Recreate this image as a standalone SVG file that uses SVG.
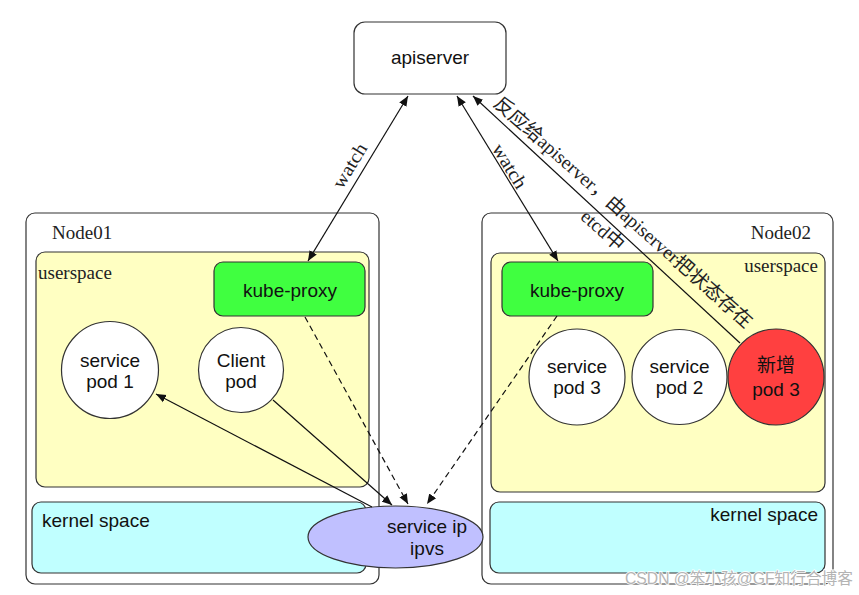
<svg xmlns="http://www.w3.org/2000/svg" width="859" height="595" viewBox="0 0 859 595">
<style>
.box{stroke:#333;stroke-width:1.2}
.node{fill:#fff}
.user{fill:#ffffc2}
.kern{fill:#c0ffff}
.kp{fill:#40ff40}
.pod{fill:#fff}
.new{fill:#ff4040}
.ip{fill:#c0c0ff}
.sans{font-family:"Liberation Sans",Arial,"Noto Sans CJK SC",sans-serif;font-size:19px;fill:#111}
.serif{font-family:"Liberation Serif","Noto Sans CJK SC",serif;font-size:19px;fill:#222}
.mid{text-anchor:middle}
.end{text-anchor:end}
.ln{fill:none;stroke:#111;stroke-width:1.2}
.dash{stroke-dasharray:6 4}
.wm{font-family:"Liberation Sans","Noto Sans CJK SC",sans-serif;font-size:16px;fill:#b4b4b4;stroke:#fff;stroke-width:1.5;paint-order:stroke}
</style>
<defs>
<marker id="ah" viewBox="0 0 10 10" refX="10" refY="5" markerWidth="10" markerHeight="10" markerUnits="userSpaceOnUse" orient="auto-start-reverse">
<path d="M0,0.8 L10,5 L0,9.2 z" fill="#111"/>
</marker>
</defs>
<rect width="859" height="595" fill="#fff"/>

<g id="apiserver">
<rect class="box node" x="354" y="22" width="152" height="72" rx="11"/>
<text class="sans mid" x="430" y="64">apiserver</text>
</g>

<g id="node01">
<rect class="box node" x="26" y="213" width="353" height="371" rx="9"/>
<text class="serif" x="52" y="239">Node01</text>
</g>
<g id="userspace01">
<rect class="box user" x="36" y="252" width="333" height="235" rx="9"/>
<text class="serif" x="38" y="279">userspace</text>
</g>
<g id="kernel01">
<rect class="box kern" x="32" y="502" width="334" height="71" rx="9"/>
<text class="sans" x="42" y="527">kernel space</text>
</g>
<g id="kubeproxy01">
<rect class="box kp" x="214" y="262" width="151" height="54" rx="9"/>
<text class="sans mid" x="290" y="297">kube-proxy</text>
</g>
<g id="servicepod1">
<circle class="box pod" cx="110" cy="370" r="48.5"/>
<text class="sans mid" x="110" y="367">service</text>
<text class="sans mid" x="110" y="388">pod 1</text>
</g>
<g id="clientpod">
<circle class="box pod" cx="241" cy="370" r="42.5"/>
<text class="sans mid" x="241" y="367">Client</text>
<text class="sans mid" x="241" y="388">pod</text>
</g>

<g id="node02">
<rect class="box node" x="482" y="213" width="351" height="371" rx="9"/>
<text class="serif end" x="811" y="239">Node02</text>
</g>
<g id="userspace02">
<rect class="box user" x="491" y="253" width="334" height="239" rx="9"/>
<text class="serif end" x="818" y="272">userspace</text>
</g>
<g id="kernel02">
<rect class="box kern" x="490" y="502" width="335" height="71" rx="9"/>
<text class="sans end" x="818" y="521">kernel space</text>
</g>
<g id="kubeproxy02">
<rect class="box kp" x="502" y="262" width="151" height="54" rx="9"/>
<text class="sans mid" x="577" y="297">kube-proxy</text>
</g>
<g id="servicepod3">
<circle class="box pod" cx="577" cy="377" r="48"/>
<text class="sans mid" x="577" y="373">service</text>
<text class="sans mid" x="577" y="394">pod 3</text>
</g>
<g id="servicepod2">
<circle class="box pod" cx="679.5" cy="377" r="47.5"/>
<text class="sans mid" x="679.5" y="373">service</text>
<text class="sans mid" x="679.5" y="394">pod 2</text>
</g>
<g id="newpod3">
<circle class="box new" cx="776" cy="377" r="48"/>
<text class="sans mid" x="776" y="372">新增</text>
<text class="sans mid" x="776" y="396">pod 3</text>
</g>

<g id="serviceip">
<ellipse class="box ip" cx="395.5" cy="537" rx="87.5" ry="31"/>
<text class="sans mid" x="427" y="533">service ip</text>
<text class="sans mid" x="427" y="555">ipvs</text>
</g>

<g id="connectors">
<line class="ln" x1="408" y1="96" x2="308" y2="261" marker-start="url(#ah)" marker-end="url(#ah)"/>
<line class="ln" x1="457" y1="96" x2="558" y2="261" marker-start="url(#ah)" marker-end="url(#ah)"/>
<line class="ln" x1="740" y1="343" x2="473" y2="96" marker-end="url(#ah)"/>
<line class="ln" x1="372" y1="507" x2="156" y2="394" marker-end="url(#ah)"/>
<line class="ln" x1="273" y1="400" x2="392" y2="505" marker-end="url(#ah)"/>
<line class="ln dash" x1="305" y1="317" x2="408" y2="504" marker-end="url(#ah)"/>
<line class="ln dash" x1="557" y1="316" x2="427" y2="504" marker-end="url(#ah)"/>
<text class="serif mid" transform="translate(355,169) rotate(-58.5)" textLength="49" lengthAdjust="spacingAndGlyphs">watch</text>
<text class="serif mid" transform="translate(504.4,169.4) rotate(58.5)" textLength="49" lengthAdjust="spacingAndGlyphs">watch</text>
<text class="serif mid" transform="translate(619,217) rotate(41.5)" textLength="338" lengthAdjust="spacingAndGlyphs">反应给apiserver，由apiserver把状态存在</text>
<text class="serif mid" transform="translate(598.5,235) rotate(41.5)">etcd中</text>
</g>

<text class="wm" x="625" y="584" textLength="228" lengthAdjust="spacingAndGlyphs">CSDN @笨小孩@GF知行合博客</text>
</svg>
